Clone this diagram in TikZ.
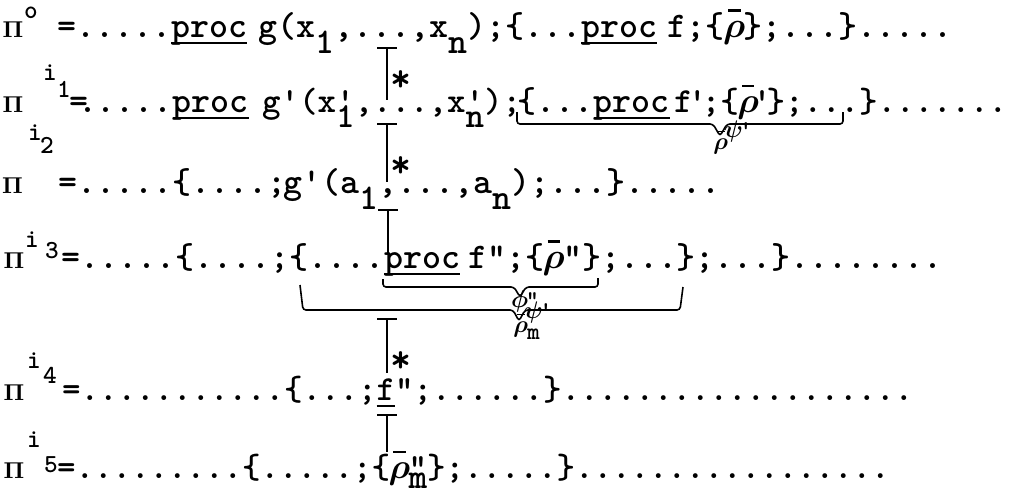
\RequirePackage{fix-cm}
\documentclass[tikz,border=0pt]{standalone}
\usepackage[no-math]{fontspec}
\usepackage{bm}
\usepackage{tikz}
\usetikzlibrary{arrows.meta}

\newcommand\gk[1]{\makebox[0.525em]{$\bm{#1}$}}
\newcommand\sub[1]{\raisebox{-0.45em}{#1}}
\newcommand\psub[2]{\rlap{#1}\raisebox{-0.45em}{#2}}
\newcommand\ob[1]{\rlap{\hspace{0.09em}\rule[0.7em]{0.35em}{0.07em}}#1}
\newcommand\ul[1]{\sbox0{#1}\rlap{\rule[-0.2em]{\wd0}{0.07em}}\usebox0}
\newcommand\pr{\makebox[0.2625em]{'}}

\tikzset{
  txt/.style={anchor=base west, inner sep=0pt, font=\ttfamily\bfseries\fontsize{#1}{#1}\selectfont},
  txt/.default=18.06,
  pihd/.style={anchor=base, inner sep=0pt, font=\fontsize{11.5}{11.5}\selectfont},
  idx/.style={anchor=base, inner sep=0pt, font=\ttfamily\bfseries\fontsize{13}{13}\selectfont},
  lbl/.style={anchor=base west, inner sep=0pt, font=\ttfamily\bfseries\fontsize{12}{12}\selectfont},
  tee/.style={{Bar[width=10pt]}-, line width=0.8pt},
  star/.style={anchor=base, inner sep=0pt, font=\ttfamily\bfseries\fontsize{20}{20}\selectfont},
  brace/.style={line width=0.8pt, rounded corners=1.5pt},
}

\begin{document}
\begin{tikzpicture}[x=0.5pt,y=-0.5pt]
\useasboundingbox (0,0) rectangle (1014,494);

\node[pihd] (pi0) at (13,37) {$\mathbf{\Pi}$};
\node[idx] (pi0s) at (31,18) {o};
\node[txt] (l0a) at (57,37) {=.....\ul{proc}};
\node[txt] (l0b) at (258.5,37) {g(x\sub1,...,x\sub n);\{...\ul{proc}};
\node[txt] (l0c) at (667.5,37) {f;\{\ob{\gk\rho}\};...\}.....};

\node[pihd] (pi1) at (13,112) {$\mathbf{\Pi}$};
\node[idx] (pi1s) at (50,80) {i};
\node[idx] (pi1b) at (64,97) {1};
\node[txt] (l1a) at (69.5,112) {=\hspace{-0.3em}.....\ul{proc}};
\node[txt=17.62] (l1b) at (261.75,112) {g'(x\psub{'}{1},...,x\psub{'}{n});};
\node[txt] (l1c) at (517.5,112) {\{...\ul{proc}};
\node[txt=17.62] (l1d) at (673.75,112) {f\pr;\{\ob{\gk\rho}\pr\};...\}.......};

\node[pihd] (pi2) at (12.5,193) {$\mathbf{\Pi}$};
\node[idx] (pi2s) at (35,140) {i};
\node[idx] (pi2b) at (47,153) {2};
\node[txt] (l2a) at (58.5,193) {=.....\{....;};
\node[txt] (l2b) at (283.5,193) {g'(a\sub1,...,a\sub n);...\}.....};

\node[pihd] (pi3) at (14,268) {$\mathbf{\Pi}$};
\node[idx] (pi3s) at (32,247) {i};
\node[idx] (pi3b) at (52,258) {3};
\node[txt] (l3a) at (61.5,268) {=.....\{....;\{....\ul{proc}};
\node[txt] (l3b) at (468,268) {f";\{\ob{\gk\rho}"\};...\};...\}........};

\node[pihd] (pi4) at (14,400) {$\mathbf{\Pi}$};
\node[idx] (pi4s) at (34,368) {i};
\node[idx] (pi4b) at (50,383) {4};
\node[txt=17.62] (l4) at (61.75,400) {=...........\{...;\ul{f}";......\}...................};

\node[pihd] (pi5) at (14,478) {$\mathbf{\Pi}$};
\node[idx] (pi5s) at (34,447) {i};
\node[idx] (pi5b) at (51,472) {5};
\node[txt=17.62] (l5) at (56.75,478) {=.........\{.....;\{\ob{\gk\rho}\rlap{"}\raisebox{-0.3em}{m}\};.....\}.................};

\coordinate (c1t) at (387,47);
\coordinate (c1b) at (387,100);
\coordinate (c2t) at (387,123);
\coordinate (c2b) at (387,182);
\coordinate (c3t) at (388,209);
\coordinate (c3b) at (388,253);
\coordinate (c4t) at (387,318);
\coordinate (c4b) at (387,373);
\coordinate (c5t) at (387,414);
\coordinate (c5b) at (387,452);
\draw[tee] (c1t) -- (c1b);
\draw[tee] (c2t) -- (c2b);
\draw[tee] (c3t) -- (c3b);
\draw[tee] (c4t) -- (c4b);
\draw[tee] (c5t) -- (c5b);
\node[star] (st1) at (401,91) {*};
\node[star] (st2) at (401,177) {*};
\node[star] (st3) at (401,372) {*};

\draw[brace] (517,112) -- (517,124) -- (713,124) -- (720,136) -- (727,124) -- (843,124) -- (843,112);
\node[lbl] (lab1) at (714,149) {\ob{\gk\rho}\raisebox{0.5em}{\gk\psi'}};

\draw[brace] (383,279) -- (383,287) -- (514,287) -- (520,297) -- (526,287) -- (598,287) -- (598,278);
\node[lbl] (lab2) at (513,307) {\gk\phi"};

\draw[brace] (300,285) -- (303,310) -- (513,310) -- (519,321) -- (525,310) -- (680,310) -- (683,287);
\node[lbl] (lab3) at (514,332) {\ob{\gk\rho}\rlap{\raisebox{0.55em}{\gk\psi'}}\raisebox{-0.3em}{m}};
\end{tikzpicture}
\end{document}
